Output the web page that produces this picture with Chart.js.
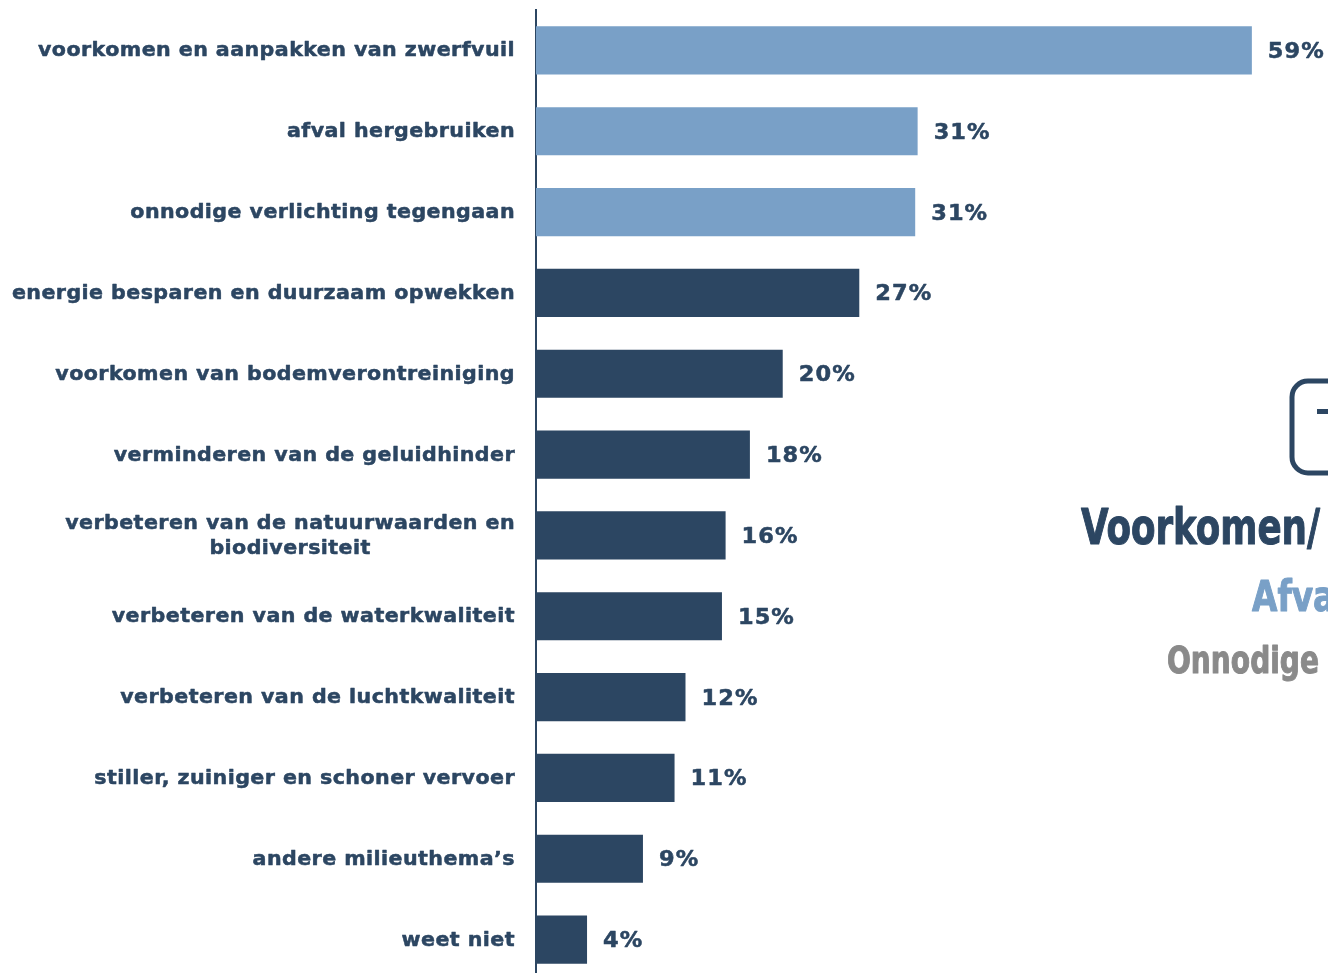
<!DOCTYPE html>
<html>
<head>
<meta charset="utf-8">
<script src="https://cdn.jsdelivr.net/npm/chart.js@4.4.1/dist/chart.umd.min.js"></script>
<style>
  html, body { margin: 0; padding: 0; background: #fff; overflow: hidden; }
  #wrap { width: 1328px; height: 980px; }
</style>
</head>
<body>
<div id="wrap"><canvas id="grafico" width="1328" height="980"></canvas></div>
<script>
// data
const categorias = [
  'voorkomen en aanpakken van zwerfvuil',
  'afval hergebruiken',
  'onnodige verlichting tegengaan',
  'energie besparen en duurzaam opwekken',
  'voorkomen van bodemverontreiniging',
  'verminderen van de geluidhinder',
  ['verbeteren van de natuurwaarden en', 'biodiversiteit'],
  'verbeteren van de waterkwaliteit',
  'verbeteren van de luchtkwaliteit',
  'stiller, zuiniger en schoner vervoer',
  'andere milieuthema\u2019s',
  'weet niet'
]
const valores = [58.9, 31.4, 31.2, 26.6, 20.3, 17.6, 15.6, 15.3, 12.3, 11.4, 8.8, 4.2]
const rotulos = ['59%', '31%', '31%', '27%', '20%', '18%', '16%', '15%', '12%', '11%', '9%', '4%']
const destaque = 3   // first three bars are light blue

const escuro = '#2c4662'
const claro = '#79a0c7'
const cinza = '#8a8a8a'
const fonte = '"DejaVu Sans", Verdana, sans-serif'

const cores = valores.map((v, i) => i < destaque ? claro : escuro)

// draw text squeezed/stretched horizontally by k, with an optional outline to make it heavier
function texto(ctx, t, x, y, k, align, grosso) {
  const w = ctx.measureText(t).width * k
  let x0 = x
  if (align === 'right') x0 = x - w
  if (align === 'center') x0 = x - w / 2
  ctx.save()
  ctx.translate(x0, y)
  ctx.scale(k, 1)
  ctx.textAlign = 'left'
  ctx.fillText(t, 0, 0)
  if (grosso) {
    ctx.strokeStyle = ctx.fillStyle
    ctx.lineWidth = grosso
    ctx.lineJoin = 'round'
    ctx.strokeText(t, 0, 0)
  }
  ctx.restore()
}

// category labels (centred multi-line) and value labels
const textos = {
  id: 'textos',
  afterDatasetsDraw(chart) {
    const ctx = chart.ctx
    const y = chart.scales.y
    ctx.save()
    ctx.fillStyle = escuro
    ctx.textBaseline = 'middle'
    ctx.font = 'bold 19.5px ' + fonte
    ctx.letterSpacing = '0.4px'
    const k = 477 / ctx.measureText(categorias[0]).width
    categorias.forEach((c, i) => {
      const py = y.getPixelForTick(i) + 1
      const right = y.right - 21
      if (Array.isArray(c)) {
        const w = Math.max(...c.map(l => ctx.measureText(l).width)) * k
        const cx = right - w / 2
        c.forEach((l, j) => texto(ctx, l, cx, py + (j - (c.length - 1) / 2) * 25, k, 'center', 0.5))
      } else {
        texto(ctx, c, right, py, k, 'right', 0.5)
      }
    })
    const meta = chart.getDatasetMeta(0)
    ctx.font = 'bold 21px ' + fonte
    ctx.letterSpacing = '1px'
    const k2 = 57 / ctx.measureText(rotulos[0]).width
    meta.data.forEach((bar, i) => {
      texto(ctx, rotulos[i], bar.x + 16, bar.y + 2, k2, 'left', 0.5)
    })
    ctx.restore()
  }
}

// cropped slide text on the right (only the part visible in the picture)
const lateral = {
  id: 'lateral',
  afterDraw(chart) {
    const ctx = chart.ctx
    ctx.save()
    ctx.strokeStyle = escuro
    ctx.lineWidth = 5
    ctx.beginPath()
    ctx.roundRect(1292, 381, 80, 92, 16)
    ctx.stroke()
    ctx.fillStyle = escuro
    ctx.fillRect(1317, 409, 11, 5)

    const cond = '"Liberation Sans Narrow", "DejaVu Sans Condensed", "Liberation Sans", sans-serif'
    function linha(txt, x, base, size, cor, alvo, largura) {
      ctx.font = 'bold ' + size + 'px ' + cond
      const w = ctx.measureText(alvo).width
      ctx.fillStyle = cor
      ctx.textBaseline = 'alphabetic'
      texto(ctx, txt, x, base, largura / w, 'left', 1)
    }
    linha('Voorkomen/', 1081, 544, 50, escuro, 'Voorkomen', 226)
    linha('Afva', 1252, 611, 42, claro, 'Afv', 61)
    linha('Onnodige', 1167, 673, 38, cinza, 'Onnodige', 152)
    ctx.restore()
  }
}

new Chart(document.getElementById('grafico').getContext('2d'), {
  type: 'bar',
  data: {
    labels: categorias,
    datasets: [{
      data: valores,
      backgroundColor: cores,
      borderWidth: 0,
      categoryPercentage: 1,
      barPercentage: 0.595
    }]
  },
  options: {
    indexAxis: 'y',
    responsive: false,
    animation: false,
    layout: { padding: { top: 10, right: 2, bottom: 0, left: 0 } },
    plugins: { legend: { display: false }, tooltip: { enabled: false } },
    scales: {
      x: { display: false, min: 0, max: 65 },
      y: {
        grid: { display: false, drawTicks: false },
        border: { display: true, color: escuro, width: 2 },
        ticks: { display: false },
        afterFit(scale) { scale.width = 536 }
      }
    }
  },
  plugins: [textos, lateral]
})
</script>
</body>
</html>
